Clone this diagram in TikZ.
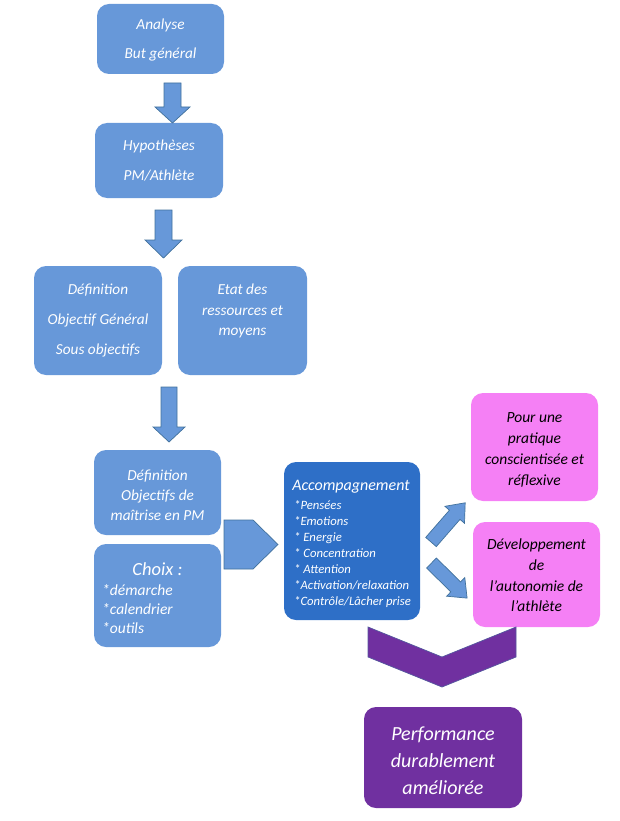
\documentclass[tikz,border=0pt]{standalone}
\usepackage{fontspec}
\setmainfont{Carlito}
\definecolor{boxblue}{RGB}{103,152,217}
\definecolor{arrowline}{RGB}{65,113,156}
\definecolor{accblue}{RGB}{46,111,199}
\definecolor{pinkbox}{RGB}{245,128,245}
\definecolor{purplebox}{RGB}{112,48,160}
\begin{document}
\begin{tikzpicture}[x=1pt,y=-1pt,
  box/.style={rounded corners=12pt, fill=boxblue, draw=none, inner sep=0pt},
  accbox/.style={box, fill=accblue},
  pinkbx/.style={box, fill=pinkbox},
  purplebx/.style={box, fill=purplebox},
  wtxt/.style={text=white, align=center, inner sep=0pt},
  btxt/.style={text=black, align=center, inner sep=0pt},
  blockarrow/.style={fill=boxblue, draw=arrowline, line width=0.7pt, line join=miter},
  chevron/.style={fill=purplebox, draw=arrowline!60!purplebox, line width=0.7pt}
]
\useasboundingbox (0,0) rectangle (620,821);

% Boxes
\node[box, minimum width=127pt, minimum height=70pt] (analyse) at (160.5,39) {};
\node[wtxt, font=\fontsize{15.3}{29}\selectfont\itshape] (analyseT) at (160.5,40) {Analyse\\But général};

\node[box, minimum width=128pt, minimum height=75pt] (hyp) at (159,160.5) {};
\node[wtxt, font=\fontsize{15.3}{30}\selectfont\itshape] (hypT) at (159,161) {Hypothèses\\PM/Athlète};

\node[box, minimum width=128pt, minimum height=109pt] (def) at (98,320.5) {};
\node[wtxt, font=\fontsize{15.3}{30}\selectfont\itshape] (defT) at (98,320.5) {Définition\\Objectif Général\\Sous objectifs};

\node[box, minimum width=129pt, minimum height=109pt] (etat) at (242.5,320.5) {};
\node[wtxt, font=\fontsize{15.3}{20.5}\selectfont\itshape] (etatT) at (242.5,311) {Etat des\\ressources et\\moyens};

\node[box, minimum width=127pt, minimum height=85pt] (maitr) at (157.5,492.5) {};
\node[wtxt, font=\fontsize{15.3}{20}\selectfont\itshape] (maitrT) at (157.5,495) {Définition\\Objectifs de\\maîtrise en PM};

\node[box, minimum width=127pt, minimum height=103pt] (choix) at (157.5,595.5) {};
\node[wtxt, font=\fontsize{18.5}{20}\selectfont\itshape] (choixT) at (157.5,569) {Choix :};
\node[wtxt, align=left, anchor=west, font=\fontsize{15.5}{19}\selectfont\itshape] (choixL) at (102,609.5) {*démarche\\*calendrier\\*outils};

\node[accbox, minimum width=136pt, minimum height=158pt] (acc) at (352,541) {};
\node[wtxt, font=\fontsize{16}{18}\selectfont\itshape] (accT) at (351,487) {Accompagnement};
\node[wtxt, align=left, anchor=west, font=\fontsize{12.7}{15.9}\selectfont\itshape] (accL) at (294,554) {*Pensées\\*Emotions\\* Energie\\* Concentration\\* Attention\\*Activation/relaxation\\*Contrôle/Lâcher prise};

\node[pinkbx, minimum width=127pt, minimum height=108pt] (pour) at (534.5,447) {};
\node[btxt, font=\fontsize{15.5}{21}\selectfont\itshape] (pourT) at (534.5,449.5) {Pour une\\pratique\\conscientisée et\\réflexive};

\node[pinkbx, minimum width=127pt, minimum height=105pt] (dev) at (536.5,574.5) {};
\node[btxt, font=\fontsize{15.5}{20.7}\selectfont\itshape] (devT) at (536.5,575.5) {Développement\\de\\l’autonomie de\\l’athlète};

\node[purplebx, minimum width=158pt, minimum height=101pt] (perf) at (443,757.5) {};
\node[wtxt, font=\fontsize{20}{27}\selectfont\itshape] (perfT) at (443,761) {Performance\\durablement\\améliorée};

% Block arrows
\draw[blockarrow] (164,83) -- (181,83) -- (181,107) -- (190,107) -- (172.5,123) -- (155,107) -- (164,107) -- cycle;
\draw[blockarrow] (155,210) -- (172,210) -- (172,240) -- (182,240) -- (163.5,258) -- (145,240) -- (155,240) -- cycle;
\draw[blockarrow] (161,387) -- (177,387) -- (177,427) -- (185,427) -- (169,442) -- (153,427) -- (161,427) -- cycle;
\draw[blockarrow] (224,520) -- (253,520) -- (278,544.5) -- (253,569) -- (224,569) -- cycle;
\draw[blockarrow] (436.3,546.6) -- (460.0,519.4) -- (464.5,523.3) -- (465.2,502.8) -- (444.9,506.3) -- (449.4,510.2) -- (425.7,537.4) -- cycle;
\draw[blockarrow] (426.6,568.0) -- (450.8,591.9) -- (446.6,596.2) -- (467.1,598.1) -- (464.8,577.6) -- (460.6,581.9) -- (436.4,558.0) -- cycle;
\draw[chevron] (368,627) -- (442,657) -- (516,627) -- (516,657) -- (442,687) -- (368,657) -- cycle;
\end{tikzpicture}
\end{document}
